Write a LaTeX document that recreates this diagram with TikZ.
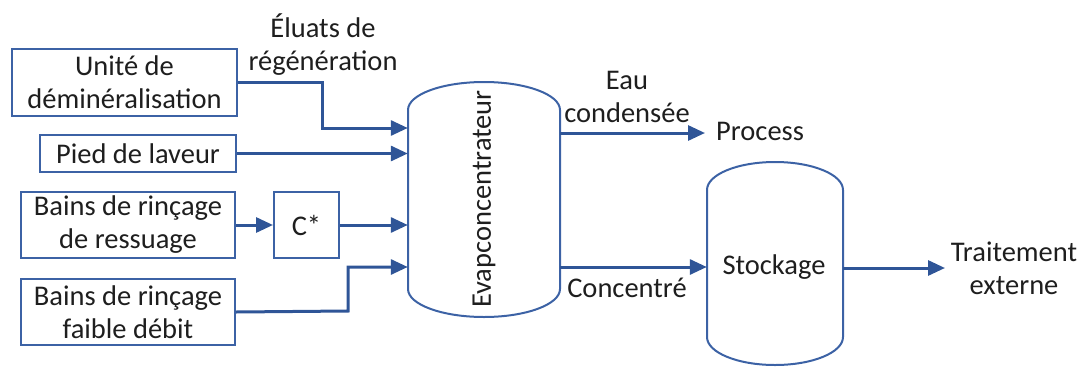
\documentclass[tikz,border=0pt]{standalone}
\usepackage{fontspec}
\setmainfont{Carlito}
\usetikzlibrary{arrows.meta}
\definecolor{lineblue}{RGB}{47,85,151}
\definecolor{boxblue}{RGB}{60,98,165}
\definecolor{txt}{RGB}{30,30,30}
\tikzset{
  box/.style={draw=boxblue, line width=2pt, align=center, inner sep=0pt, text=txt, font=\fontsize{28.5}{33}\selectfont},
  lbl/.style={align=center, inner sep=0pt, text=txt, font=\fontsize{28.5}{33}\selectfont},
  arr/.style={draw=lineblue, line width=3pt, -{Triangle[length=17pt,width=15pt]}},
  tank/.style={draw=boxblue, line width=2pt},
  hole/.style={inner sep=0pt}
}
\begin{document}
\begin{tikzpicture}[x=1pt,y=-1pt]
\useasboundingbox (0,0) rectangle (1083,367);
% boxes
\node[box, minimum width=225pt, minimum height=67pt] (u) at (124.5,82.5) {Unité de\\déminéralisation};
\node[box, minimum width=196pt, minimum height=37pt] (p) at (138,153.5) {Pied de laveur};
\node[box, minimum width=214pt, minimum height=66pt] (r) at (128,225) {Bains de rinçage\\de ressuage};
\node[box, minimum width=65pt, minimum height=66pt] (c) at (306.5,225) {C*};
\node[box, minimum width=214pt, minimum height=66pt] (f) at (128,312) {Bains de rinçage\\faible débit};
% evapconcentrateur
\node[hole, minimum width=152pt, minimum height=235pt] (evap) at (484,199.5) {};
\draw[tank] (408,110) .. controls (408,94.5) and (442,82) .. (484,82)
  .. controls (526,82) and (560,94.5) .. (560,110) -- (560,289)
  .. controls (560,304.5) and (526,317) .. (484,317)
  .. controls (442,317) and (408,304.5) .. (408,289) -- cycle;
\node[lbl, rotate=90] (evt) at (484,199) {Evapconcentrateur};
% stockage
\node[hole, minimum width=136pt, minimum height=203pt] (stk) at (775,263.5) {};
\draw[tank] (707,190) .. controls (707,174.5) and (737.5,162) .. (775,162)
  .. controls (812.5,162) and (843,174.5) .. (843,190) -- (843,337)
  .. controls (843,352.5) and (812.5,365) .. (775,365)
  .. controls (737.5,365) and (707,352.5) .. (707,337) -- cycle;
\node[lbl] (stt) at (774,267) {Stockage};
% labels
\node[lbl] (elu) at (323,45) {Éluats de\\régénération};
\node[lbl] (eau) at (627,97) {Eau\\condensée};
\node[lbl, anchor=west] (proc) at (716,131) {Process};
\node[lbl] (conc) at (627,288) {Concentré};
\node[lbl] (trt) at (1014,268) {Traitement\\externe};
% connectors
\draw[arr] (u.east) -- (322,82.5) |- (evap.west |- 0,128);
\draw[arr] (p.east) -- (evap.west |- p.east);
\draw[arr] (r.east) -- (c.west);
\draw[arr] (c.east) -- (evap.west |- c.east);
\draw[arr] (f.east) -- (348,311) |- (evap.west |- 0,267);
\draw[arr] (evap.east |- 0,133) -- (705,133);
\draw[arr] (evap.east |- 0,267) -- (stk.west |- 0,267);
\draw[arr] (stk.east |- 0,268) -- (945,268);
\end{tikzpicture}
\end{document}
